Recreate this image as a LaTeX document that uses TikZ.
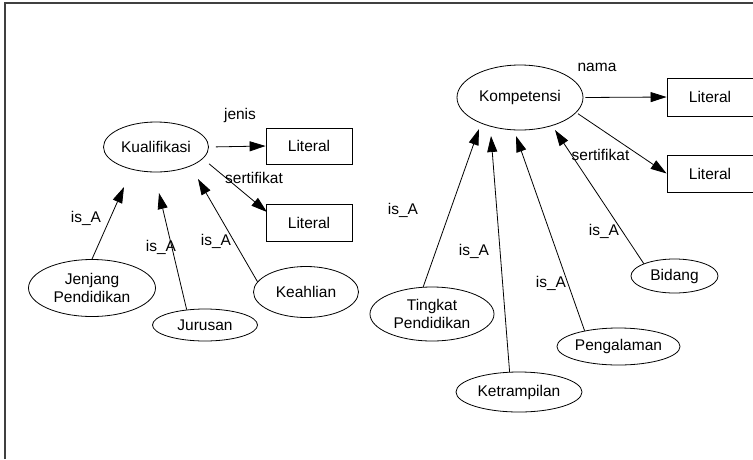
\documentclass[tikz,border=0pt]{standalone}
\usepackage{fontspec}
\setmainfont{Liberation Sans}
\usetikzlibrary{shapes.geometric,arrows.meta}

\begin{document}
\begin{tikzpicture}[x=1pt,y=-1pt,
  every node/.style={font=\fontsize{15.5}{18}\selectfont, inner sep=0pt},
  concept/.style={ellipse, draw, line width=0.8pt, align=center},
  literal/.style={rectangle, draw, line width=0.8pt, minimum width=86pt},
  lbl/.style={},
  arr/.style={line width=0.8pt, -{Triangle[length=16pt,width=10pt]}},
]
\useasboundingbox (0,0) rectangle (753,459);
% frame
\draw[black!75, line width=1.4pt] (5,459) -- (5,3) -- (760,3);

% ---- Kualifikasi group
\node[concept, minimum width=105pt, minimum height=50pt] (kual) at (156,147) {Kualifikasi};
\node[literal, minimum height=36pt] (lit1) at (309,146) {Literal};
\node[literal, minimum height=37pt] (lit2) at (309,222.5) {Literal};
\node[concept, minimum width=127pt, minimum height=57pt] (jp) at (92,288) {Jenjang\\Pendidikan};
\node[concept, minimum width=105pt, minimum height=32pt] (ju) at (205,325) {Jurusan};
\node[concept, minimum width=105pt, minimum height=51pt] (ke) at (306,292) {Keahlian};

\coordinate (s1tip) at (267,212);
\coordinate (jptip) at (124,187);
\coordinate (jutip) at (159,193);
\coordinate (ketip) at (198,179);

\draw[arr, shorten <=7pt] (kual.east) -- (lit1.west);
\draw[arr, shorten <=8pt] (kual.-14) -- (s1tip);
\draw[arr] (jp.north) -- (jptip);
\draw[arr] (ju.140) -- (jutip);
\draw[arr] (ke.168) -- (ketip);

\node[lbl] (ljenis) at (240,115) {jenis};
\node[lbl] (lsert1) at (254,178) {sertifikat};
\node[lbl] (lisa1) at (86,218) {is\_A};
\node[lbl] (lisa2) at (161,247) {is\_A};
\node[lbl] (lisa3) at (216,241) {is\_A};

% ---- Kompetensi group
\node[concept, minimum width=126pt, minimum height=65pt] (komp) at (520,97.5) {Kompetensi};
\node[literal, minimum height=38pt] (litr1) at (710,97) {Literal};
\node[literal, minimum height=37pt] (litr2) at (710,173.5) {Literal};
\node[concept, minimum width=124pt, minimum height=54pt] (tp) at (432,314) {Tingkat\\Pendidikan};
\node[concept, minimum width=126pt, minimum height=40pt] (kt) at (519,392) {Ketrampilan};
\node[concept, minimum width=111pt, minimum height=37pt] (pg) at (618.5,346.5) {Pengalaman};
\node[concept, minimum width=87pt, minimum height=34pt] (bd) at (674.5,276) {Bidang};

\coordinate (tptip) at (479,129);
\coordinate (kttip) at (491,136);
\coordinate (pgtip) at (516,136);
\coordinate (bdtip) at (555,130);

\draw[arr, shorten <=2pt] (komp.east) -- (litr1.west);
\draw[arr, shorten <=2pt] (komp.-15) -- (litr2.west);
\draw[arr] (tp.108) -- (tptip);
\draw[arr] (kt.115) -- (kttip);
\draw[arr] (pg.155) -- (pgtip);
\draw[arr] (bd.158) -- (bdtip);

\node[lbl] (lnama) at (597,67) {nama};
\node[lbl] (lsert2) at (600.5,155) {sertifikat};
\node[lbl] (lisa4) at (403,210) {is\_A};
\node[lbl] (lisa5) at (474,251) {is\_A};
\node[lbl] (lisa6) at (551,283) {is\_A};
\node[lbl] (lisa7) at (604,231) {is\_A};
\end{tikzpicture}
\end{document}
